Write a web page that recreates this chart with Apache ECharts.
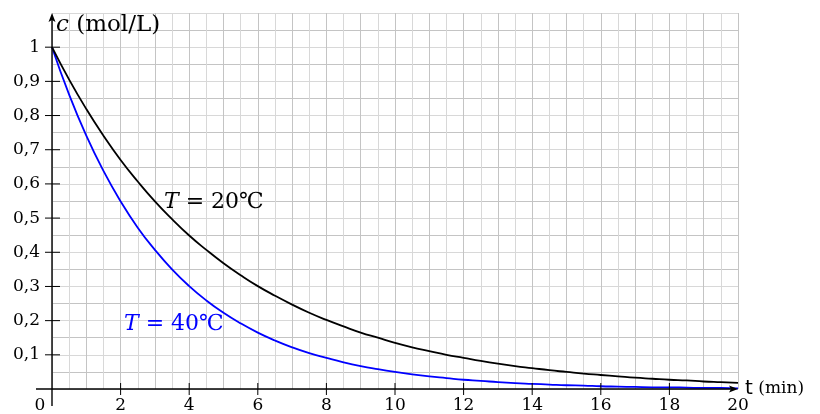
<!DOCTYPE html>
<html>
<head>
<meta charset="utf-8">
<script src="https://cdn.jsdelivr.net/npm/echarts@6/dist/echarts.min.js"></script>
<style>html,body{margin:0;padding:0;background:#fff}#c{width:820px;height:414px}</style>
</head>
<body>
<div id="c"></div>
<script>
// time values (min)
var tValues = [0,0.5,1,1.5,2,2.5,3,3.5,4,4.5,5,5.5,6,6.5,7,7.5,8,8.5,9,9.5,10,10.5,11,11.5,12,12.5,13,13.5,14,14.5,15,15.5,16,16.5,17,17.5,18,18.5,19,19.5,20];
// concentration at T = 20 °C (mol/L)
var c20 = [1.000,0.905,0.819,0.741,0.670,0.607,0.549,0.497,0.449,0.407,0.368,0.333,0.301,0.273,0.247,0.223,0.202,0.183,0.165,0.150,0.135,0.122,0.111,0.100,0.091,0.082,0.074,0.067,0.061,0.055,0.050,0.045,0.041,0.037,0.033,0.030,0.027,0.025,0.022,0.020,0.018];
// concentration at T = 40 °C (mol/L)
var c40 = [1.000,0.861,0.741,0.638,0.549,0.472,0.407,0.350,0.301,0.259,0.223,0.192,0.165,0.142,0.122,0.105,0.091,0.078,0.067,0.058,0.050,0.043,0.037,0.032,0.027,0.024,0.020,0.017,0.015,0.013,0.011,0.010,0.008,0.007,0.006,0.005,0.005,0.004,0.003,0.003,0.002];
// tick values and labels
var xTickValues = [2,4,6,8,10,12,14,16,18,20];
var xTickLabels = ['2','4','6','8','10','12','14','16','18','20'];
var yTickValues = [0.1,0.2,0.3,0.4,0.5,0.6,0.7,0.8,0.9,1];
var yTickLabels = ['0,1','0,2','0,3','0,4','0,5','0,6','0,7','0,8','0,9','1'];

function pairs(xs, ys){ var out=[]; for (var i=0;i<xs.length;i++) out.push([xs[i], ys[i]]); return out; }
function lookup(vals, labels, v){ for (var i=0;i<vals.length;i++){ if (Math.abs(vals[i]-v)<1e-6) return labels[i]; } return ''; }

var serif = 'DejaVu Serif';
var chart = echarts.init(document.getElementById('c'), null, {renderer:'canvas'});
var option = {
  animation: false,
  backgroundColor: '#fff',
  grid: {left: 52, right: 82, top: 13, bottom: 24, containLabel: false},
  xAxis: {
    type: 'value', min: 0, max: 20, interval: 0.5,
    axisLine: {show: false},
    axisTick: {show: false},
    axisLabel: {
      customValues: xTickValues, margin: 8,
      fontFamily: serif, fontSize: 17, color: '#000',
      formatter: function(v){ return lookup(xTickValues, xTickLabels, v); }
    },
    splitLine: {show: true, showMinLine: true, showMaxLine: true, lineStyle: {color: ['#c4c4c4', '#d8d8d8'], width: 1}}
  },
  yAxis: {
    type: 'value', min: 0, max: 1.1, interval: 0.05,
    axisLine: {show: false},
    axisTick: {show: false},
    axisLabel: {
      customValues: yTickValues, margin: 12,
      fontFamily: serif, fontSize: 17, color: '#000',
      formatter: function(v){ return lookup(yTickValues, yTickLabels, v); }
    },
    splitLine: {show: true, showMinLine: true, showMaxLine: true, lineStyle: {color: ['#d8d8d8', '#c4c4c4'], width: 1}}
  },
  series: [
    {name: 'T = 20', type: 'line', smooth: 0.5, showSymbol: false, data: pairs(tValues, c20), lineStyle: {color: '#000', width: 1.8}, z: 5},
    {name: 'T = 40', type: 'line', smooth: 0.5, showSymbol: false, data: pairs(tValues, c40), lineStyle: {color: '#0000ff', width: 1.8}, z: 4}
  ]
};
chart.setOption(option);

// axes with arrows and crossing ticks, positioned through the chart's scales
var o = chart.convertToPixel({gridIndex: 0}, [0, 0]);
var xEnd = chart.convertToPixel({gridIndex: 0}, [20, 0]);
var yEnd = chart.convertToPixel({gridIndex: 0}, [0, 1.1]);
var els = [];
var ax = {stroke: '#000', lineWidth: 1.4};
els.push({type: 'line', shape: {x1: o[0]-16, y1: o[1], x2: xEnd[0]-5, y2: o[1]}, style: ax, z: 10});
els.push({type: 'polygon', shape: {points: [[xEnd[0], o[1]], [xEnd[0]-9, o[1]-3.5], [xEnd[0]-7, o[1]], [xEnd[0]-9, o[1]+3.5]]}, style: {fill: '#000'}, z: 10});
els.push({type: 'line', shape: {x1: o[0], y1: o[1]+17, x2: o[0], y2: yEnd[1]+5}, style: ax, z: 10});
els.push({type: 'polygon', shape: {points: [[o[0], yEnd[1]], [o[0]-3.5, yEnd[1]+9], [o[0], yEnd[1]+7], [o[0]+3.5, yEnd[1]+9]]}, style: {fill: '#000'}, z: 10});
xTickValues.forEach(function(v){
  if (v >= 20) return;
  var p = chart.convertToPixel({gridIndex: 0}, [v, 0]);
  els.push({type: 'line', shape: {x1: p[0], y1: p[1]-6, x2: p[0], y2: p[1]+6}, style: {stroke: '#000', lineWidth: 1}, z: 10});
});
yTickValues.forEach(function(v){
  var p = chart.convertToPixel({gridIndex: 0}, [0, v]);
  els.push({type: 'line', shape: {x1: p[0]-7, y1: p[1], x2: p[0]+8, y2: p[1]}, style: {stroke: '#000', lineWidth: 1}, z: 10});
});
// origin label
els.push({type: 'text', x: o[0]-12, y: o[1]+17, style: {text: '0', font: '17px "DejaVu Serif"', fill: '#000', align: 'center', verticalAlign: 'middle'}, z: 10});
// axis titles
els.push({type: 'text', x: 56, y: 25, style: {
  text: '{i|c} (mol/L)', verticalAlign: 'middle', align: 'left', fill: '#000', font: '23px "DejaVu Serif"',
  rich: {i: {fontStyle: 'italic', fontFamily: serif, fontSize: 23, fill: '#000'}}
}, z: 10});
els.push({type: 'text', x: 745, y: 389, style: {
  text: '{s|t} {r|(min)}', verticalAlign: 'middle', align: 'left', fill: '#000', font: '17px "DejaVu Serif"',
  rich: {s: {fontFamily: 'DejaVu Sans', fontSize: 20, fill: '#000'}, r: {fontFamily: serif, fontSize: 17, fill: '#000'}}
}, z: 10});
// curve annotations
els.push({type: 'text', x: 164, y: 202, style: {
  text: '{i|T} = 20℃', verticalAlign: 'middle', align: 'left', fill: '#000', font: '22px "DejaVu Serif"',
  rich: {i: {fontStyle: 'italic', fontFamily: serif, fontSize: 22, fill: '#000'}}
}, z: 10});
els.push({type: 'text', x: 124, y: 324, style: {
  text: '{i|T} = 40℃', verticalAlign: 'middle', align: 'left', fill: '#0000ff', font: '22px "DejaVu Serif"',
  rich: {i: {fontStyle: 'italic', fontFamily: serif, fontSize: 22, fill: '#0000ff'}}
}, z: 10});
chart.setOption({graphic: {elements: els}});
</script>
</body>
</html>
